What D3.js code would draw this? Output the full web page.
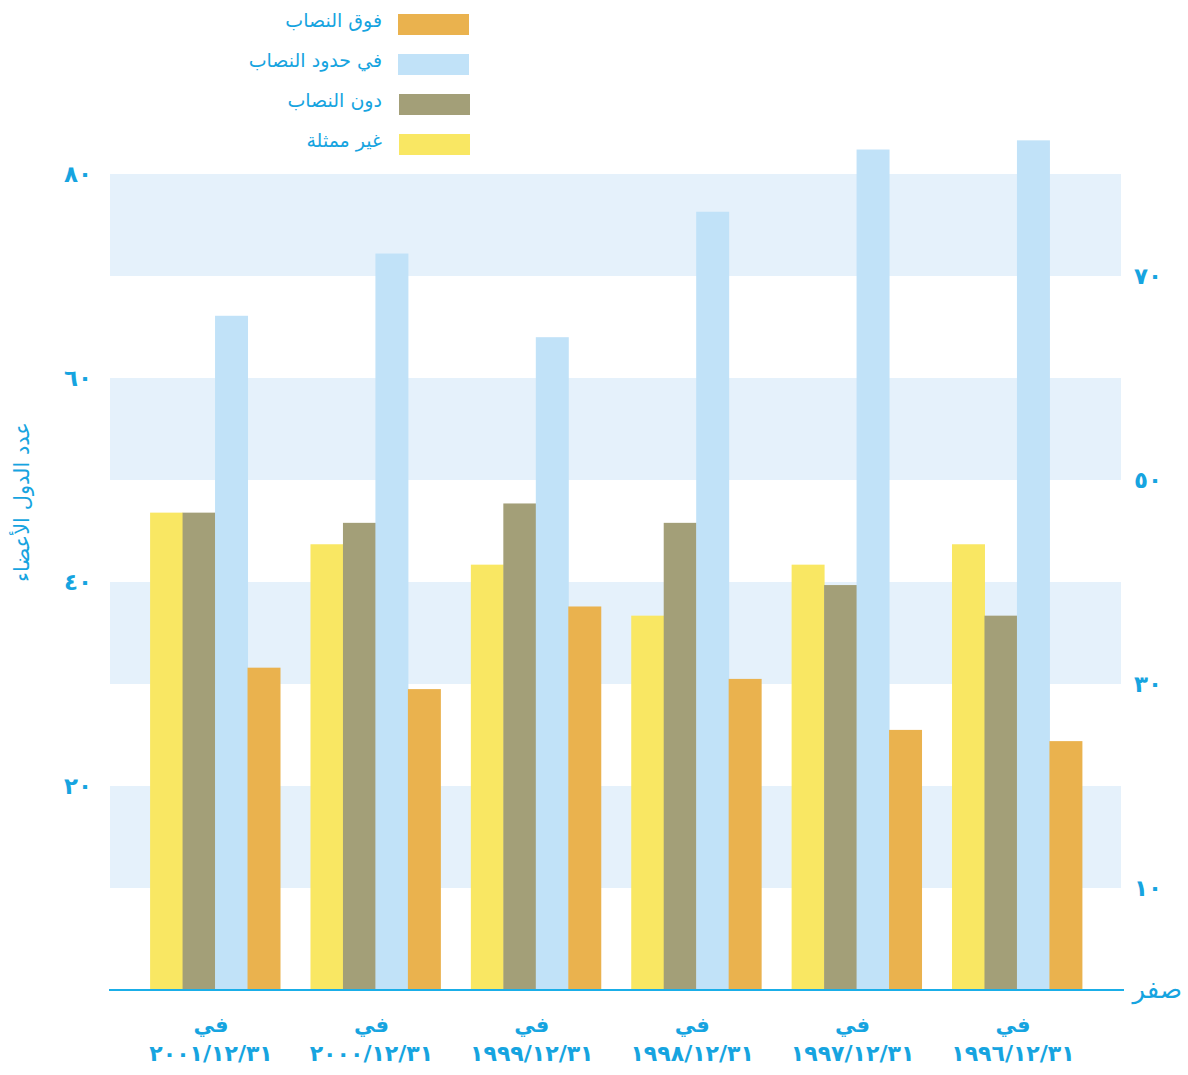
<!DOCTYPE html>
<html lang="ar">
<head>
<meta charset="utf-8">
<script src="https://cdn.jsdelivr.net/npm/d3@7"></script>
<style>
  body { margin: 0; background: #fff; }
  svg text { font-family: "DejaVu Sans", sans-serif; fill: #16a4e0; }
</style>
</head>
<body>
<div id="chart"></div>
<script>
// groups, left to right as drawn
const dates = ["٢٠٠١/١٢/٣١", "٢٠٠٠/١٢/٣١", "١٩٩٩/١٢/٣١", "١٩٩٨/١٢/٣١", "١٩٩٧/١٢/٣١", "١٩٩٦/١٢/٣١"];
// series (bar order within a group, left to right)
const seriesKeys = ["unrep", "under", "within", "over"];
const seriesNames = ["غير ممثلة", "دون النصاب", "في حدود النصاب", "فوق النصاب"];
const unrep  = [46.8, 43.7, 41.7, 36.7, 41.7, 43.7];
const under  = [46.8, 45.8, 47.7, 45.8, 39.7, 36.7];
const within = [66.1, 72.2, 64.0, 76.3, 82.4, 83.3];
const over   = [31.6, 29.5, 37.6, 30.5, 25.5, 24.4];
const leftTicks = [20, 40, 60, 80];
const rightTicks = [10, 30, 50, 70];
const arabicDigits = "٠١٢٣٤٥٦٧٨٩";
const legendOrder = ["over", "within", "under", "unrep"];

const toArabic = n => String(n).replace(/\d/g, c => arabicDigits[+c]);

const W = 1188, H = 1075;
const colors = { unrep: "#f9e763", under: "#a39f78", within: "#c1e2f8", over: "#eab24e" };
const values = { unrep, under, within, over };

const svg = d3.select("#chart").append("svg")
  .attr("width", W).attr("height", H);

//scales
const x0 = d3.scaleBand().domain(dates).range([110, 1122]).paddingInner(0.19).paddingOuter(0.25);
const x1 = d3.scaleBand().domain(seriesKeys).range([0, x0.bandwidth()]);
const y = d3.scaleLinear().domain([0, 80]).range([990, 174]);

//shaded bands
svg.selectAll("rect.band")
  .data(rightTicks)
  .enter().append("rect")
  .attr("class", "band")
  .attr("x", 110).attr("width", 1011)
  .attr("y", d => y(d + 10))
  .attr("height", d => y(d) - y(d + 10))
  .attr("fill", "#e5f1fb");

//bars
const groups = svg.selectAll("g.grp")
  .data(dates)
  .enter().append("g")
  .attr("class", "grp")
  .attr("transform", d => `translate(${x0(d)},0)`);

groups.selectAll("rect")
  .data((d, i) => seriesKeys.map(k => ({ key: k, v: values[k][i] })))
  .enter().append("rect")
  .attr("x", d => x1(d.key))
  .attr("width", x1.bandwidth() + 0.5)
  .attr("y", d => y(d.v))
  .attr("height", d => y(0) - y(d.v))
  .attr("fill", d => colors[d.key]);

//baseline
svg.append("line")
  .attr("x1", 109).attr("x2", 1124)
  .attr("y1", y(0)).attr("y2", y(0))
  .attr("stroke", "#1aaee8").attr("stroke-width", 2);

//left ticks
svg.selectAll("text.lt")
  .data(leftTicks)
  .enter().append("text")
  .attr("class", "lt")
  .attr("x", 92).attr("y", d => y(d))
  .attr("dy", "0.35em")
  .attr("text-anchor", "end")
  .style("font-size", "23px").style("font-weight", "bold")
  .text(d => toArabic(d));

//right ticks
svg.selectAll("text.rt")
  .data(rightTicks)
  .enter().append("text")
  .attr("class", "rt")
  .attr("x", 1134).attr("y", d => y(d))
  .attr("dy", "0.35em")
  .attr("text-anchor", "start")
  .style("font-size", "23px").style("font-weight", "bold")
  .text(d => toArabic(d));

svg.append("text")
  .attr("x", 1182).attr("y", y(0))
  .attr("dy", "0.3em")
  .attr("text-anchor", "end")
  .style("font-size", "26px")
  .text("صفر");

//y title
svg.append("text")
  .attr("transform", "translate(22,502) rotate(-90)")
  .attr("text-anchor", "middle")
  .attr("dy", "0.35em")
  .style("font-size", "21px")
  .text("عدد الدول الأعضاء");

//x labels
const xl = svg.selectAll("g.xl")
  .data(dates)
  .enter().append("g")
  .attr("class", "xl")
  .attr("transform", d => `translate(${x0(d) + x0.bandwidth() / 2 - 4},0)`);
xl.append("text")
  .attr("y", 1025).attr("dy", "0.35em")
  .attr("text-anchor", "middle")
  .style("font-size", "21px").style("font-weight", "bold")
  .text("في");
xl.append("text")
  .attr("y", 1053).attr("dy", "0.35em")
  .attr("text-anchor", "middle")
  .style("font-size", "22px").style("font-weight", "bold")
  .text(d => d);

//legend
const legY = d3.scaleBand().domain(legendOrder).range([4, 164]);
const leg = svg.selectAll("g.leg")
  .data(legendOrder)
  .enter().append("g")
  .attr("class", "leg")
  .attr("transform", d => `translate(0,${legY(d)})`);
leg.append("rect")
  .attr("x", d => d === "over" || d === "within" ? 398 : 399)
  .attr("y", 10).attr("width", 71).attr("height", 21)
  .attr("fill", d => colors[d]);
leg.append("text")
  .attr("x", 382).attr("y", 16)
  .attr("dy", "0.35em")
  .attr("text-anchor", "end")
  .style("font-size", "19px")
  .text(d => seriesNames[seriesKeys.indexOf(d)]);
</script>
</body>
</html>
